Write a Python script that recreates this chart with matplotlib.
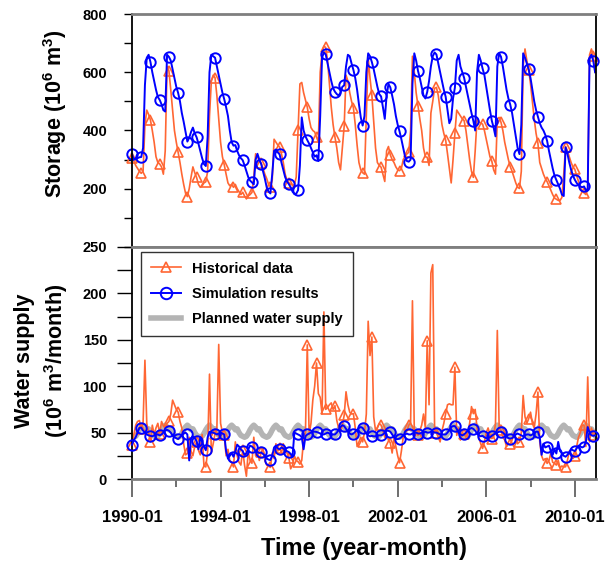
import matplotlib.pyplot as plt
import numpy as np
from matplotlib.ticker import MultipleLocator, FixedLocator

plt.rcParams['font.family'] = ['Liberation Sans', 'DejaVu Sans']
plt.rcParams['font.weight'] = 'bold'
plt.rcParams['mathtext.fontset'] = 'custom'
plt.rcParams['mathtext.bf'] = 'Liberation Sans:bold'
plt.rcParams['mathtext.rm'] = 'Liberation Sans:bold'
plt.rcParams['mathtext.default'] = 'bf'

# monthly reservoir storage, 1990-01 .. 2010-12 (10^6 m3), one row per year
hist_storage = [
    305, 295, 280, 270, 260, 253, 260, 420, 470, 455, 436, 400,
    360, 310, 290, 285, 275, 250, 330, 620, 605, 540, 470, 400,
    360, 326, 290, 250, 215, 185, 173, 200, 240, 275, 255, 239,
    215, 205, 210, 220, 224, 260, 450, 570, 590, 581, 520, 440,
    360, 310, 282, 250, 220, 210, 215, 205, 215, 200, 190, 180,
    188, 175, 165, 175, 180, 187, 240, 320, 310, 295, 288, 270,
    250, 235, 215, 206, 230, 370, 360, 350, 343, 320, 290, 250,
    230, 221, 215, 213, 213, 240, 401, 560, 565, 530, 505, 480,
    440, 410, 400, 395, 377, 360, 600, 670, 690, 685, 640, 560,
    480, 420, 377, 340, 290, 265, 340, 415, 590, 570, 530, 500,
    478, 420, 350, 290, 265, 255, 250, 450, 650, 580, 522, 430,
    340, 290, 280, 274, 250, 225, 330, 345, 316, 300, 290, 275,
    265, 262, 270, 300, 310, 320, 325, 400, 655, 600, 530, 484,
    440, 400, 340, 310, 308, 280, 460, 500, 545, 548, 520, 470,
    420, 390, 367, 320, 270, 220, 300, 390, 470, 460, 450, 440,
    434, 400, 350, 300, 260, 239, 330, 440, 430, 425, 422, 400,
    370, 340, 310, 295, 265, 250, 440, 445, 428, 400, 360, 330,
    300, 276, 260, 240, 220, 205, 201, 260, 620, 680, 640, 608,
    560, 500, 440, 390, 356, 290, 270, 250, 235, 224, 210, 195,
    180, 168, 164, 160, 160, 170, 250, 345, 330, 310, 290, 275,
    267, 245, 225, 205, 190, 186, 180, 200, 660, 680, 656, 600,
]
sim_storage = [
    319, 300, 305, 305, 308, 309, 340, 556, 650, 660, 635, 600,
    570, 540, 515, 505, 490, 470, 465, 660, 653, 640, 610, 580,
    550, 529, 500, 460, 430, 395, 362, 375, 395, 410, 390, 377,
    355, 330, 305, 285, 278, 380, 600, 660, 655, 650, 620, 590,
    560, 530, 507, 480, 450, 400, 360, 348, 350, 330, 315, 305,
    298, 280, 260, 240, 228, 222, 215, 300, 320, 300, 285, 260,
    235, 205, 190, 184, 250, 330, 335, 325, 318, 290, 265, 240,
    225, 216, 205, 190, 182, 183, 195, 280, 445, 400, 380, 367,
    355, 340, 325, 310, 315, 295, 450, 650, 668, 661, 630, 600,
    570, 545, 533, 525, 520, 530, 550, 555, 620, 660, 655, 630,
    608, 580, 540, 490, 445, 417, 450, 600, 665, 655, 635, 610,
    580, 550, 525, 517, 480, 440, 520, 560, 548, 520, 490, 450,
    420, 397, 370, 340, 310, 295, 293, 300, 560, 665, 640, 605,
    580, 550, 520, 510, 532, 570, 620, 655, 668, 661, 630, 600,
    570, 540, 516, 470, 425, 440, 510, 547, 640, 660, 620, 600,
    581, 550, 520, 490, 460, 433, 400, 600, 660, 640, 613, 590,
    550, 510, 470, 434, 410, 380, 620, 665, 653, 620, 580, 540,
    510, 489, 460, 420, 380, 340, 319, 420, 665, 650, 630, 610,
    580, 540, 500, 470, 448, 425, 410, 400, 385, 364, 330, 300,
    270, 245, 230, 215, 200, 180, 175, 342, 320, 290, 265, 245,
    231, 220, 212, 208, 205, 208, 195, 200, 650, 660, 639, 600,
]

# monthly water supply (10^6 m3/month)
hist_supply = [
    37, 48, 58, 62, 63, 54, 60, 128, 60, 50, 40, 58,
    48, 55, 60, 49, 62, 57, 55, 60, 62, 70, 85, 80,
    75, 72, 62, 55, 38, 26, 27.5, 45, 30, 25, 35, 40,
    31, 26, 48, 14, 13, 30, 113, 28, 38, 49, 55, 145,
    60, 50, 47, 25, 32, 20, 18, 13, 40, 25, 18, 15,
    31, 15, 3, 30, 20, 17, 45, 25, 30, 20, 28.6, 33,
    20, 15, 14, 12.5, 28, 22, 38, 30, 33, 28, 38, 31,
    28, 23, 11, 15, 25, 20, 18.6, 16, 20, 42, 50, 144.5,
    48, 60, 85, 100, 125, 92, 88, 70, 180, 75, 77, 80,
    82, 75, 79, 63, 55, 51, 58, 68.6, 94, 80, 72, 70,
    70.4, 55, 35, 40, 45, 40, 50, 70, 170, 133, 153, 67,
    52, 55, 60, 58, 52, 45, 48, 42, 39, 28, 45, 35,
    25, 17.5, 30, 45, 50, 52, 58, 60, 192, 52, 50, 47,
    52, 58, 70, 55, 149, 80, 222, 231, 55, 50, 45, 40,
    52, 60, 70.4, 80, 81, 80, 80, 120.5, 47, 55, 42, 48,
    49, 45, 50, 60, 78, 70.4, 75, 55, 45, 38, 32.9, 40,
    50, 55, 48, 43.6, 45, 60, 160, 55, 52.5, 45, 42, 35,
    38, 37.5, 42, 50, 45, 38, 40, 50, 90, 67, 60, 65,
    72, 60, 55, 70, 93.7, 40, 25, 20, 22, 16.8, 20, 28,
    18, 17, 15, 20, 12, 14, 13, 13.2, 20, 30, 25, 22,
    25, 35, 45, 50, 58, 58, 35, 110, 40, 55, 47, 48,
]
sim_supply = [
    37, 42, 45, 50, 55, 55.4, 52, 50, 48, 47, 46.5, 46,
    47, 48, 48, 47, 48, 50, 52, 53, 52, 50, 47, 45,
    44, 43, 45, 47, 49, 50, 48, 20, 44, 46, 44, 41,
    32, 45, 40, 35, 31, 45, 51, 50, 50, 49, 48, 49,
    50, 49, 48, 30, 22, 25, 28, 24, 30, 37, 35, 32,
    30, 26, 28, 32, 36, 35, 33, 30, 29, 28, 28.6, 27,
    25, 22, 21, 20.4, 25, 34, 36, 33, 32, 34, 33, 31,
    30, 29, 27, 24, 50, 49, 48, 47, 45, 32, 46, 48,
    49, 50, 51, 51, 50.7, 50, 49, 48, 48, 49, 50, 49,
    48, 48, 48, 50, 53, 56, 58, 57, 54, 51, 49, 48,
    49, 51, 53, 55, 56, 55, 52, 49, 47, 46, 46.5, 46,
    46, 47, 47, 47, 48, 50, 52, 52, 51, 48, 45, 43,
    43, 43.6, 45, 47, 48, 49, 48, 48, 49, 50, 50, 49,
    49, 50, 50, 51, 50, 50, 51, 51, 50, 50, 49, 48,
    48, 48, 48, 50, 53, 56, 57, 57, 54, 50, 48, 47,
    48, 50, 52, 54, 55, 54, 52, 49, 47, 46, 46.5, 45,
    44, 44, 45, 46.5, 48, 49, 50, 51, 51, 50, 48, 46,
    44, 43.6, 44, 46, 48, 49, 48, 47, 46, 47, 48, 48,
    47, 48, 49, 51, 51, 45, 26, 38, 34, 35, 36, 30,
    26, 32, 27.5, 40, 30, 28, 25, 24, 26, 29, 32, 31,
    30, 33, 36, 35, 34, 35, 40, 56, 50, 47, 46.5, 47,
]
# planned supply for each calendar month, Jan..Dec (same every year)
planned_year = [46, 45, 46, 49, 53, 56, 58, 56, 53, 54, 50, 47]

tick_months = [0, 48, 96, 144, 192, 240]
tick_labels = ['1990-01', '1994-01', '1998-01', '2002-01', '2006-01', '2010-01']

months = np.arange(len(hist_storage))
planned_supply = np.tile(planned_year, len(months) // 12)

ORANGE = '#FF6633'
BLUE = '#0000FF'
GRAY = '#B4B4B4'

fig = plt.figure(figsize=(6.12, 5.74), dpi=100)
ax1 = fig.add_axes([0.2157, 0.5697, 0.7582, 0.4059])
ax2 = fig.add_axes([0.2157, 0.1655, 0.7582, 0.4042])

hist_style = dict(color=ORANGE, lw=1.2, marker='^', ms=7, mfc='none',
                  mec=ORANGE, mew=1.2, markevery=5, clip_on=False)
sim_style = dict(color=BLUE, lw=1.4, marker='o', ms=7.5, mfc='none',
                 mec=BLUE, mew=1.4, markevery=5, clip_on=False)

# storage
ax1.plot(months, hist_storage, **hist_style)
ax1.plot(months, sim_storage, **sim_style)
ax1.set_ylim(0, 800)
ax1.yaxis.set_major_locator(FixedLocator([200, 400, 600, 800]))
ax1.yaxis.set_minor_locator(MultipleLocator(100))
ax1.tick_params(axis='y', which='both', direction='out', length=6, width=1,
                pad=12, labelsize=10.5)
ax1.tick_params(axis='x', which='both', bottom=False, labelbottom=False)

# water supply
ax2.plot(months, planned_supply, color=GRAY, lw=4, zorder=1,
         label='Planned water supply')
ax2.plot(months, hist_supply, label='Historical data', zorder=2, **hist_style)
ax2.plot(months, sim_supply, label='Simulation results', zorder=3, **sim_style)
ax2.set_ylim(0, 250)
ax2.yaxis.set_major_locator(MultipleLocator(50))
ax2.yaxis.set_minor_locator(MultipleLocator(25))
ax2.tick_params(axis='y', which='both', direction='out', length=11, width=1,
                pad=7, labelsize=10.5)
ax2.set_xticks(tick_months)
ax2.set_xticklabels(tick_labels)
ax2.xaxis.set_minor_locator(MultipleLocator(24))
ax2.tick_params(axis='x', which='major', direction='out', length=13,
                width=1.2, color='#555555', pad=9, labelsize=12)
ax2.tick_params(axis='x', which='minor', direction='out', length=6,
                width=1.2, color='#555555')

for ax in (ax1, ax2):
    ax.set_xlim(0, 251.5)
    for side in ('left', 'right'):
        ax.spines[side].set_color('black')
        ax.spines[side].set_linewidth(1.3)
    for side in ('top', 'bottom'):
        ax.spines[side].set_color('#7F7F7F')
        ax.spines[side].set_linewidth(2)

handles, labels = ax2.get_legend_handles_labels()
order = [1, 2, 0]
leg = ax2.legend([handles[i] for i in order], [labels[i] for i in order],
                 loc='upper left', bbox_to_anchor=(0.019, 0.98),
                 borderaxespad=0, fancybox=False, frameon=True,
                 facecolor='none', edgecolor='black',
                 handlelength=2.1, handletextpad=0.75, labelspacing=0.78,
                 borderpad=0.68, markerscale=1.1,
                 prop={'size': 10.5, 'weight': 'bold'})
leg.get_frame().set_linewidth(1.0)

fig.text(0.0899, 0.8014, r'Storage (10$^{6}$ m$^{3}$)', rotation=90,
         ha='center', va='center', fontsize=15.5, fontweight='bold')
fig.text(0.0686, 0.371, 'Water supply\n' + r'(10$^{6}$ m$^{3}$/month)',
         rotation=90, ha='center', va='center', fontsize=15.5,
         fontweight='bold', linespacing=1.35, multialignment='center')
fig.text(0.595, 0.0436, 'Time (year-month)', ha='center', va='center',
         fontsize=17, fontweight='bold')

fig.savefig('out.png', dpi=100)
